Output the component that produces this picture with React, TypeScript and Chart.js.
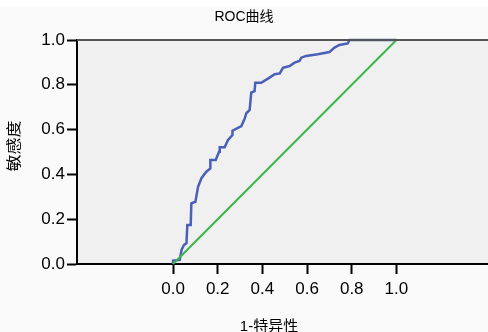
import React, { useEffect, useRef } from "react";
import { Chart, registerables } from "chart.js";

Chart.register(...registerables);

const chartTitle = "ROC曲线";
const xAxisTitle = "1-特异性";
const yAxisTitle = "敏感度";

const xTicks = [0, 0.2, 0.4, 0.6, 0.8, 1.0];

// ROC curve (1-specificity, sensitivity)
const fprValues = [
  0, 0, 0.03, 0.038, 0.049, 0.06, 0.064, 0.079, 0.082, 0.1, 0.112, 0.127, 0.149, 0.167,
  0.167, 0.191, 0.206, 0.209, 0.231, 0.246, 0.266, 0.266, 0.306, 0.321, 0.328, 0.343,
  0.35, 0.365, 0.368, 0.395, 0.432, 0.455, 0.478, 0.492, 0.522, 0.544, 0.566, 0.574,
  0.596, 0.648, 0.7, 0.723, 0.745, 0.782, 0.79, 1.0,
];
const tprValues = [
  0, 0.015, 0.018, 0.063, 0.085, 0.092, 0.174, 0.174, 0.271, 0.278, 0.345, 0.383, 0.412,
  0.427, 0.464, 0.464, 0.501, 0.521, 0.521, 0.554, 0.576, 0.595, 0.616, 0.65, 0.673,
  0.688, 0.765, 0.772, 0.809, 0.809, 0.832, 0.847, 0.851, 0.876, 0.884, 0.899, 0.906,
  0.921, 0.929, 0.936, 0.946, 0.966, 0.978, 0.985, 1.0, 1.0,
];

// reference line
const refX = [0, 1];
const refY = [0, 1];

const FONT = "'Liberation Sans', 'Noto Sans CJK SC', sans-serif";

export default function App() {
  const ref = useRef<HTMLCanvasElement | null>(null);

  useEffect(() => {
    document.body.style.margin = "0";
    const canvas = ref.current;
    if (!canvas) return;

    const decor = {
      id: "decor",
      beforeDraw(chart: any) {
        const { ctx, chartArea } = chart;
        ctx.save();
        ctx.fillStyle = "#fafafa";
        ctx.fillRect(0, 0, chart.width, chart.height);
        ctx.fillStyle = "#ffffff";
        ctx.fillRect(0, 0, chart.width, 7);
        ctx.fillStyle = "#f0f0f0";
        ctx.fillRect(chartArea.left, chartArea.top, chartArea.right - chartArea.left, chartArea.bottom - chartArea.top);
        ctx.restore();
      },
      afterDraw(chart: any) {
        const { ctx, chartArea } = chart;
        ctx.save();
        ctx.strokeStyle = "#555555";
        ctx.lineWidth = 2;
        ctx.beginPath();
        ctx.moveTo(chartArea.left, chartArea.top);
        ctx.lineTo(chartArea.right, chartArea.top);
        ctx.stroke();

        ctx.fillStyle = "#000";
        ctx.textAlign = "center";
        ctx.textBaseline = "middle";
        ctx.font = `14px ${FONT}`;
        ctx.fillText(chartTitle, 244, 17);
        ctx.font = `15px ${FONT}`;
        ctx.fillText(xAxisTitle, 269, 327);
        ctx.translate(15, 146);
        ctx.rotate(-Math.PI / 2);
        ctx.scale(1, 0.85);
        ctx.font = `17px ${FONT}`;
        ctx.fillText(yAxisTitle, 0, 0);
        ctx.restore();
      },
    };

    const chart = new Chart(canvas, {
      type: "scatter",
      data: {
        datasets: [
          {
            data: refX.map((x, i) => ({ x, y: refY[i] })),
            showLine: true,
            borderColor: "#3db54a",
            borderWidth: 2,
            pointRadius: 0,
            tension: 0,
            clip: 4,
          },
          {
            data: fprValues.map((x, i) => ({ x, y: tprValues[i] })),
            showLine: true,
            borderColor: "#4a5fb8",
            borderWidth: 2.5,
            pointRadius: 0,
            tension: 0,
            clip: 4,
          },
        ],
      },
      options: {
        responsive: false,
        animation: false,
        layout: { padding: { top: 40, left: 0, right: 0, bottom: 0 } },
        plugins: {
          legend: { display: false },
          title: { display: false },
          tooltip: { enabled: false },
        },
        scales: {
          x: {
            type: "linear",
            min: -0.43,
            max: 1.41,
            afterBuildTicks: (s: any) => {
              s.ticks = xTicks.map((v) => ({ value: v }));
            },
            afterFit: (s: any) => {
              s.height = 68;
            },
            ticks: {
              color: "#000",
              font: { family: FONT, size: 17 },
              padding: 5,
              maxRotation: 0,
              autoSkip: false,
              callback: (v: any) => Number(v).toFixed(1),
            },
            grid: {
              drawOnChartArea: false,
              drawTicks: true,
              tickLength: 10,
              tickWidth: 2,
              tickColor: "#000",
            },
            border: { display: true, color: "#000", width: 2 },
          },
          y: {
            type: "linear",
            min: 0,
            max: 1,
            afterFit: (s: any) => {
              s.width = 77;
            },
            ticks: {
              stepSize: 0.2,
              color: "#000",
              font: { family: FONT, size: 17 },
              padding: 2,
              callback: (v: any) => Number(v).toFixed(1),
            },
            grid: {
              drawOnChartArea: false,
              drawTicks: true,
              tickLength: 10,
              tickWidth: 2,
              tickColor: "#000",
            },
            border: { display: true, color: "#000", width: 2 },
          },
        },
      },
      plugins: [decor],
    });

    return () => chart.destroy();
  }, []);

  return (
    <div style={{ position: "absolute", left: 0, top: 0, width: 488, height: 332 }}>
      <canvas ref={ref} width={488} height={332} />
    </div>
  );
}
